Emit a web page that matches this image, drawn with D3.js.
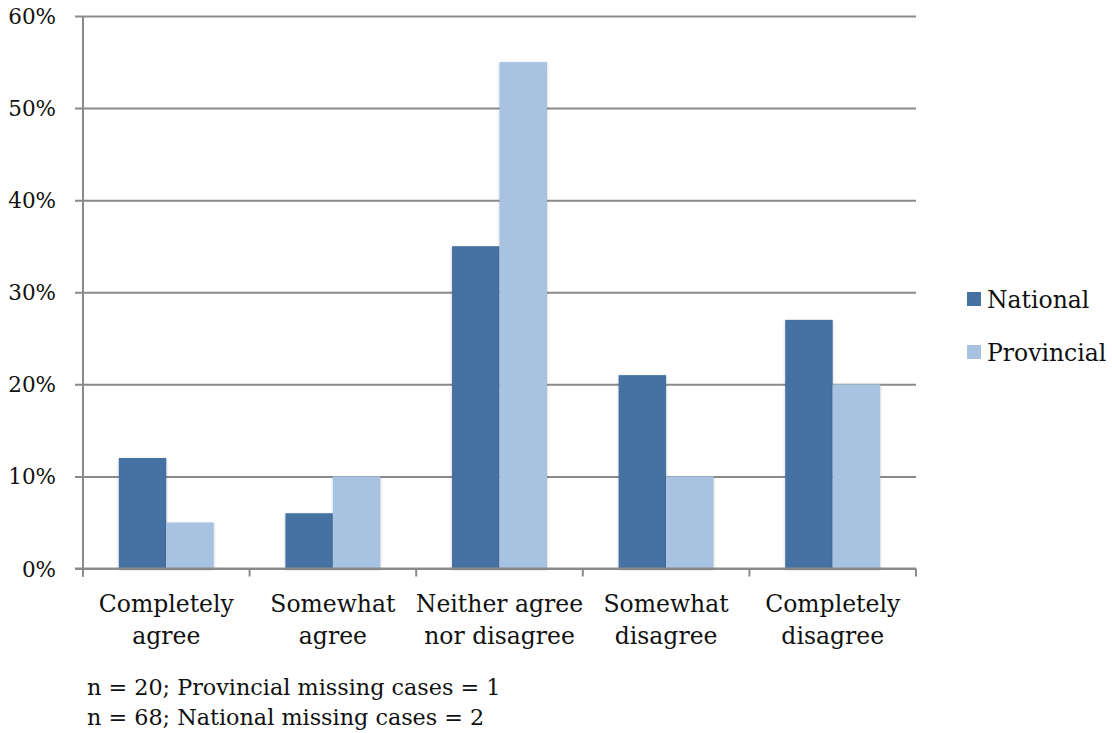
<!DOCTYPE html>
<html>
<head>
<meta charset="utf-8">
<script src="https://cdn.jsdelivr.net/npm/d3@7"></script>
<style>
  html, body { margin: 0; padding: 0; background: #fff; }
  svg text { font-family: "DejaVu Serif", "Liberation Serif", serif; fill: #111; }
</style>
</head>
<body>
<svg id="chart" width="1112" height="733"></svg>
<script>
// Survey responses by level of government (% of respondents)
const categories = [
  ["Completely", "agree"],
  ["Somewhat", "agree"],
  ["Neither agree", "nor disagree"],
  ["Somewhat", "disagree"],
  ["Completely", "disagree"]
];
const seriesNames = ["National", "Provincial"];
const nationalValues = [12, 6, 35, 21, 27];
const provincialValues = [5, 10, 55, 10, 20];
const yTicks = [0, 10, 20, 30, 40, 50, 60];
const notes = [
  "n = 20; Provincial missing cases = 1",
  "n = 68; National missing cases = 2"
];
const colors = ["#4572A2", "#A8C2E1"];

const svg = d3.select("#chart");
const plotLeft = 83, plotRight = 916, plotTop = 16, plotBottom = 568.5;

const x = d3.scaleBand()
  .domain(d3.range(categories.length))
  .range([plotLeft, plotRight])
  .paddingInner(0.43)
  .paddingOuter(0.215);
const xs = d3.scaleBand().domain(seriesNames).range([0, x.bandwidth()]);
const y = d3.scaleLinear().domain([0, 60]).range([plotBottom, plotTop]);

const defs = svg.append("defs");
const f = defs.append("filter").attr("id", "shadow")
  .attr("x", "-20%").attr("y", "-20%").attr("width", "140%").attr("height", "140%");
f.append("feDropShadow").attr("dx", 0).attr("dy", 1).attr("stdDeviation", 1.6)
  .attr("flood-color", "#000").attr("flood-opacity", 0.22);

// horizontal gridlines with left tick stubs
const yAxis = d3.axisLeft(y).tickValues(yTicks).tickSize(0)
  .tickFormat(d => d + "%");
const gy = svg.append("g").attr("transform", `translate(${plotLeft},0)`).call(yAxis);
gy.select(".domain").remove();
gy.selectAll(".tick line").attr("x1", -8).attr("x2", plotRight - plotLeft)
  .attr("stroke", "#8a8a8a").attr("stroke-width", 2);
gy.selectAll(".tick text").attr("font-size", 21.5).attr("x", -27).attr("dy", "0.35em")
  .style("font-family", "'DejaVu Serif', serif").attr("fill", "#111");

// vertical axis line
svg.append("line").attr("x1", plotLeft).attr("x2", plotLeft).attr("y1", plotTop).attr("y2", plotBottom + 8)
  .attr("stroke", "#8a8a8a").attr("stroke-width", 2);

// bars
const data = [nationalValues, provincialValues];
const groups = svg.append("g").selectAll("g").data(categories).join("g")
  .attr("transform", (d, i) => `translate(${x(i)},0)`);
groups.selectAll("rect")
  .data((d, i) => seriesNames.map((s, k) => ({ s, k, v: data[k][i] })))
  .join("rect")
  .attr("x", d => xs(d.s))
  .attr("width", xs.bandwidth())
  .attr("y", d => y(d.v))
  .attr("height", d => y(0) - y(d.v))
  .attr("fill", d => colors[d.k])
  .attr("filter", "url(#shadow)");

// category axis
const boundaries = d3.range(categories.length + 1).map(i => plotLeft + i * x.step());
svg.append("line").attr("x1", plotLeft - 8).attr("x2", plotRight).attr("y1", plotBottom).attr("y2", plotBottom)
  .attr("stroke", "#8a8a8a").attr("stroke-width", 2);
svg.append("g").selectAll("line").data(boundaries).join("line")
  .attr("x1", d => d).attr("x2", d => d).attr("y1", plotBottom).attr("y2", plotBottom + 8)
  .attr("stroke", "#8a8a8a").attr("stroke-width", 2);

const labels = svg.append("g").selectAll("text").data(categories).join("text")
  .attr("text-anchor", "middle")
  .attr("font-size", 23.5)
  .attr("transform", (d, i) => `translate(${x(i) + x.bandwidth() / 2},0)`);
labels.selectAll("tspan").data(d => d).join("tspan")
  .attr("x", 0)
  .attr("y", (d, j) => 612 + j * 32)
  .text(d => d);

// legend
const legend = svg.append("g").selectAll("g").data(seriesNames).join("g")
  .attr("transform", (d, i) => `translate(967,${292 + i * 53})`);
legend.append("rect").attr("width", 14).attr("height", 14).attr("fill", (d, i) => colors[i]);
legend.append("text").attr("x", 20).attr("y", 8).attr("dy", "0.35em")
  .attr("font-size", 23.5).text(d => d);

// notes
svg.append("g").selectAll("text").data(notes).join("text")
  .attr("x", 87).attr("y", (d, i) => 695 + i * 30)
  .attr("font-size", 22.3).text(d => d);
</script>
</body>
</html>
